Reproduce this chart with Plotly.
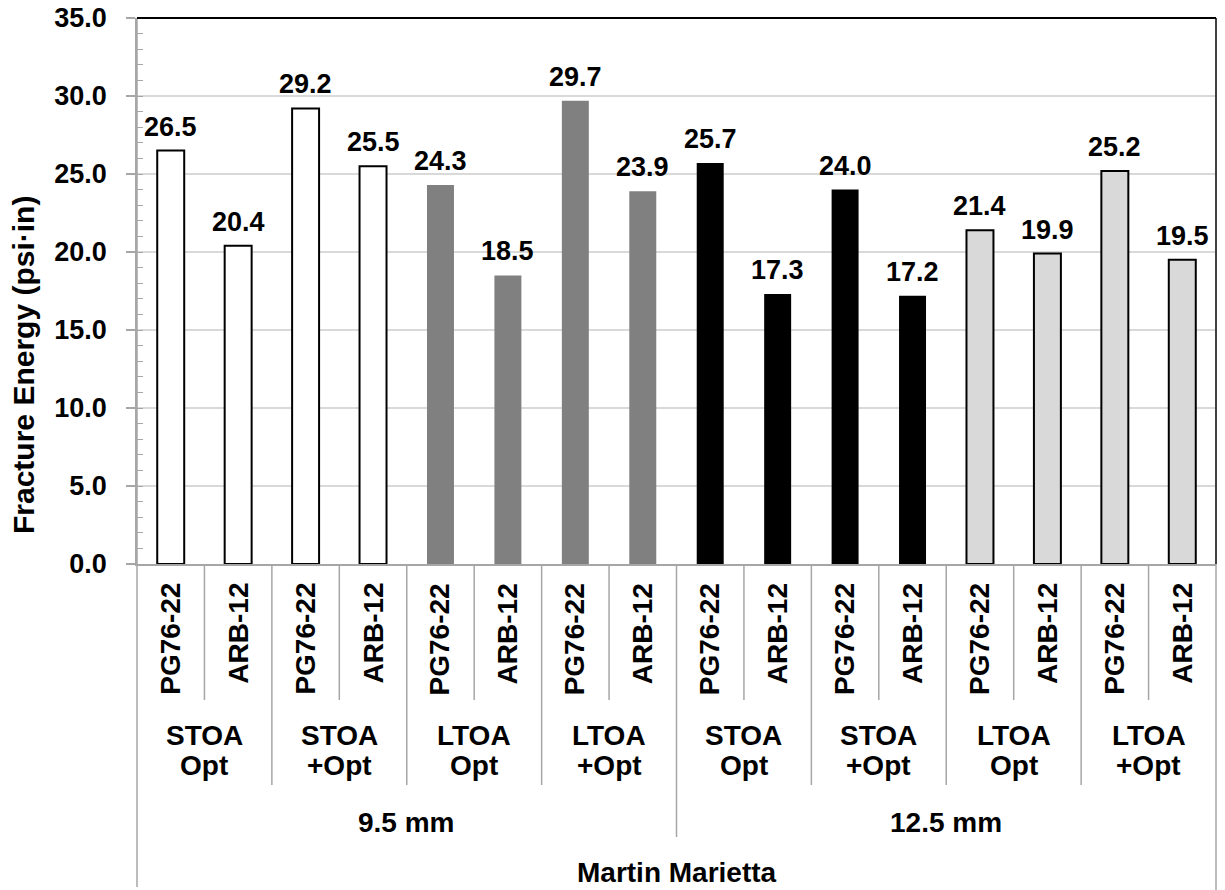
import plotly.graph_objects as go

# ---- data ----
binders = ["PG76-22", "ARB-12"] * 8
conditions = [("STOA", "Opt"), ("STOA", "+Opt"), ("LTOA", "Opt"), ("LTOA", "+Opt")] * 2
sizes = ["9.5 mm", "12.5 mm"]
source = "Martin Marietta"
values = [26.5, 20.4, 29.2, 25.5, 24.3, 18.5, 29.7, 23.9,
          25.7, 17.3, 24.0, 17.2, 21.4, 19.9, 25.2, 19.5]
y_ticks = [0, 5, 10, 15, 20, 25, 30, 35]

# ---- styles ----
group_fill = ["#ffffff", "#808080", "#000000", "#d9d9d9"]
group_line = ["#000000", "#808080", "#000000", "#000000"]
group_lw = [2, 0, 0, 2]
FONT = "Arial, Liberation Sans, sans-serif"
OFF = 8  # page body margin
W, H = 1225 - OFF, 890 - OFF
ML, MR, MT = 137 - OFF, 9, 18 - OFF
MB = H - (564 - OFF)
PH = H - MT - MB
PW = W - ML - MR
SEP = "#a6a6a6"


def py(pix):
    """screen pixel y -> paper y"""
    return (H - MB - (pix - OFF)) / PH


def px(pix):
    return (pix - OFF - ML) / PW


def f(size):
    return dict(family=FONT, size=size, color="#000000", weight="bold")


n = len(values)
xs = list(range(n))
fills = [group_fill[i // 4] for i in xs]
lcol = [group_line[i // 4] for i in xs]
lw = [group_lw[i // 4] for i in xs]

fig = go.Figure()
fig.add_trace(go.Bar(
    x=xs, y=values, width=0.4,
    marker=dict(color=fills, line=dict(color=lcol, width=lw)),
    showlegend=False, hoverinfo="skip"))

ann = []
for i, v in enumerate(values):
    ann.append(dict(x=i, y=v, xref="x", yref="y", text=f"{v:.1f}", showarrow=False,
                    yanchor="bottom", yshift=7, font=f(27)))
for i, b in enumerate(binders):
    ann.append(dict(x=i, y=py(581), xref="x", yref="paper", text=b, showarrow=False,
                    textangle=-90, yanchor="top", xanchor="center", font=f(28)))
for g in range(n // 2):
    l1, l2 = conditions[g]
    xc = 2 * g + 0.5
    ann.append(dict(x=xc, y=py(735), xref="x", yref="paper", text=l1, showarrow=False,
                    yanchor="middle", font=f(28)))
    ann.append(dict(x=xc, y=py(765), xref="x", yref="paper", text=l2, showarrow=False,
                    yanchor="middle", font=f(28)))
for k, s in enumerate(sizes):
    ann.append(dict(x=8 * k + 3.5, y=py(822), xref="x", yref="paper", text=s, showarrow=False,
                    yanchor="middle", font=f(28)))
ann.append(dict(x=(n - 1) / 2, y=py(872), xref="x", yref="paper", text=source, showarrow=False,
                yanchor="middle", font=f(28)))
ann.append(dict(x=px(23), y=py(365), xref="paper", yref="paper",
                text="Fracture Energy (psi·in)", showarrow=False, textangle=-90,
                xanchor="center", yanchor="middle", font=f(30)))

shapes = []
for b in range(n - 1):
    xb = b + 0.5
    if b == 7:
        bottom = 837
    elif b % 2 == 1:
        bottom = 785
    else:
        bottom = 700
    shapes.append(dict(type="line", xref="x", yref="paper", x0=xb, x1=xb,
                       y0=0, y1=py(bottom), line=dict(color=SEP, width=1.5)))
shapes.append(dict(type="line", xref="paper", yref="paper", x0=0, x1=0,
                   y0=1, y1=py(887), line=dict(color=SEP, width=1.5)))
shapes.append(dict(type="line", xref="paper", yref="paper", x0=1, x1=1,
                   y0=0, y1=py(892), line=dict(color=SEP, width=1.5)))
shapes.append(dict(type="line", xref="paper", yref="paper", x0=1, x1=1,
                   y0=0, y1=1, line=dict(color="#404040", width=2)))
shapes.append(dict(type="line", xref="paper", yref="paper", x0=0, x1=1,
                   y0=1, y1=1, line=dict(color="#000000", width=2)))

fig.update_layout(
    width=W, height=H,
    margin=dict(l=ML, r=MR, t=MT, b=MB, pad=0, autoexpand=False),
    paper_bgcolor="#ffffff", plot_bgcolor="#ffffff",
    annotations=ann, shapes=shapes, bargap=0.6,
    font=dict(family=FONT, color="#000000"),
)
fig.update_xaxes(range=[-0.5, n - 0.5], showticklabels=False, ticks="", automargin=False,
                 showgrid=False, zeroline=False, showline=True, linecolor=SEP, linewidth=1.5)
fig.update_yaxes(range=[0, 35], tickvals=y_ticks, ticktext=[f"{t:.1f}" for t in y_ticks],
                 automargin=False, ticklabeloverflow="allow",
                 showgrid=True, gridcolor="#d9d9d9", gridwidth=1.5,
                 zeroline=False, showline=True, linecolor=SEP, linewidth=1.5,
                 ticks="outside", ticklen=9, tickcolor=SEP, tickwidth=1.5,
                 ticklabelstandoff=14, tickfont=f(27),
                 minor=dict(dtick=1, ticks="inside", ticklen=6, tickcolor=SEP, tickwidth=1, showgrid=False))

fig.write_html("out.html")
